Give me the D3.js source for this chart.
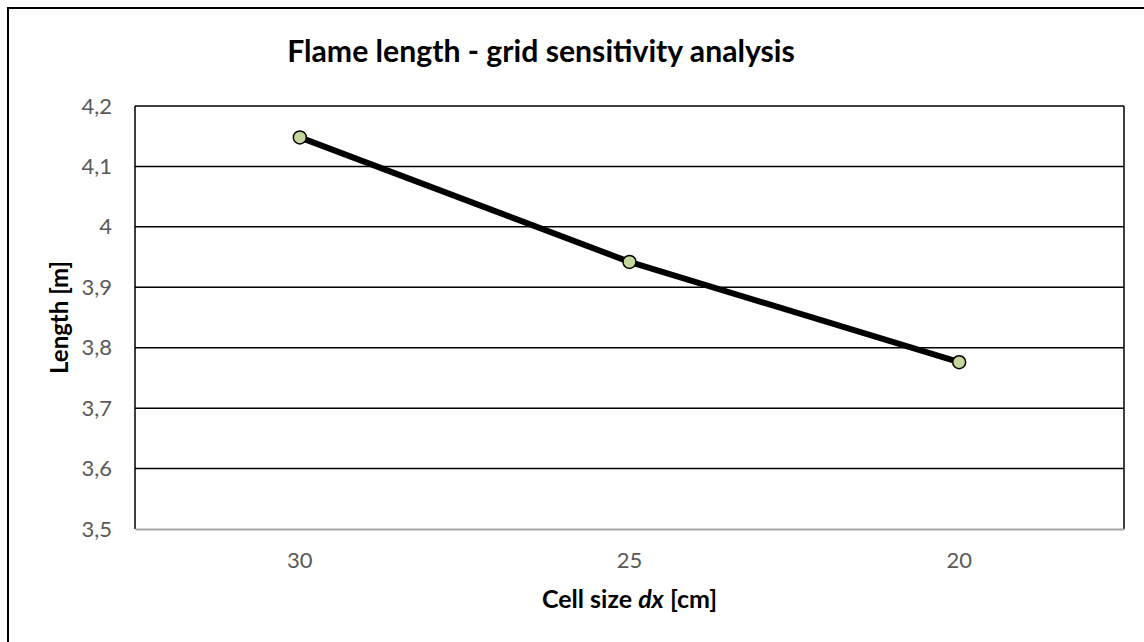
<!DOCTYPE html>
<html>
<head>
<meta charset="utf-8">
<script src="https://cdn.jsdelivr.net/npm/d3@7"></script>
<style>
  body { margin: 0; background: #fff; }
  svg { display: block; font-family: Lato, sans-serif; }
</style>
</head>
<body>
<script>
// Chart data
const cellSizes = ['30', '25', '20']
const flameLength = [4.148, 3.942, 3.776]
const yTicks = [3.5, 3.6, 3.7, 3.8, 3.9, 4.0, 4.1, 4.2]

const W = 1144
const H = 642
const plot = {left: 135, right: 1124, top: 106, bottom: 529}

const svg = d3.select('body').append('svg')
  .attr('width', W)
  .attr('height', H)

// outer chart frame (right and bottom edges fall outside the picture)
svg.append('path')
  .attr('d', `M8,${H + 5} L8,8 L${W + 5},8`)
  .attr('fill', 'none')
  .attr('stroke', '#000')
  .attr('stroke-width', 2)

// Title
svg.append('text')
  .attr('x', 541)
  .attr('y', 62)
  .attr('text-anchor', 'middle')
  .style('font-size', '30.2px')
  .style('font-weight', 'bold')
  .text('Flame length - grid sensitivity analysis')

// Scales
const xScale = d3.scaleBand()
  .domain(cellSizes)
  .range([plot.left, plot.right])

const yScale = d3.scaleLinear()
  .domain([3.5, 4.2])
  .range([plot.bottom, plot.top])

// Gridlines
svg.append('g')
  .selectAll('line')
  .data(yTicks.slice(1))
  .join('line')
  .attr('x1', plot.left)
  .attr('x2', plot.right)
  .attr('y1', d => yScale(d))
  .attr('y2', d => yScale(d))
  .attr('stroke', '#000')
  .attr('stroke-width', 1.5)

// plot border (left, right)
svg.append('path')
  .attr('d', `M${plot.left},${plot.bottom} L${plot.left},${plot.top} M${plot.right},${plot.top} L${plot.right},${plot.bottom}`)
  .attr('stroke', '#000')
  .attr('stroke-width', 1.5)
  .attr('fill', 'none')

// Y axis labels
const yAxis = svg.append('g')
  .attr('transform', `translate(${plot.left}, 0)`)
  .call(d3.axisLeft(yScale)
    .tickValues(yTicks)
    .tickSize(0)
    .tickPadding(23)
    .tickFormat(d => d3.format('.1~f')(d).replace('.', ',')))
yAxis.select('.domain').remove()
yAxis.selectAll('text')
  .attr('fill', '#595959')
  .style('font-size', '22px')
  .style('font-family', 'Lato, sans-serif')

// X axis
const xAxis = svg.append('g')
  .attr('transform', `translate(0, ${plot.bottom})`)
  .call(d3.axisBottom(xScale).tickSize(0).tickPadding(23))
xAxis.select('.domain')
  .attr('stroke', '#a6a6a6')
  .attr('stroke-width', 2)
xAxis.selectAll('text')
  .attr('fill', '#595959')
  .style('font-size', '22px')
  .style('font-family', 'Lato, sans-serif')

// Axis titles
const xTitle = svg.append('text')
  .attr('x', (plot.left + plot.right) / 2)
  .attr('y', 608)
  .attr('text-anchor', 'middle')
  .style('font-size', '25px')
  .style('font-weight', 'bold')
xTitle.append('tspan').text('Cell size ')
xTitle.append('tspan').style('font-style', 'italic').text('dx')
xTitle.append('tspan').text(' [cm]')

svg.append('text')
  .attr('transform', `translate(68, ${(plot.top + plot.bottom) / 2}) rotate(-90)`)
  .attr('text-anchor', 'middle')
  .style('font-size', '24px')
  .style('font-weight', 'bold')
  .text('Length [m]')

// Line
const points = cellSizes.map((c, i) => [c, flameLength[i]])
const line = d3.line()
  .x(d => xScale(d[0]) + xScale.bandwidth() / 2)
  .y(d => yScale(d[1]))

svg.append('path')
  .datum(points)
  .attr('d', line)
  .attr('fill', 'none')
  .attr('stroke', '#000')
  .attr('stroke-width', 6)
  .attr('stroke-linejoin', 'round')

svg.append('g')
  .selectAll('circle')
  .data(points)
  .join('circle')
  .attr('cx', d => xScale(d[0]) + xScale.bandwidth() / 2)
  .attr('cy', d => yScale(d[1]))
  .attr('r', 6.5)
  .attr('fill', '#c3d69b')
  .attr('stroke', '#000')
  .attr('stroke-width', 1.5)
</script>
</body>
</html>
